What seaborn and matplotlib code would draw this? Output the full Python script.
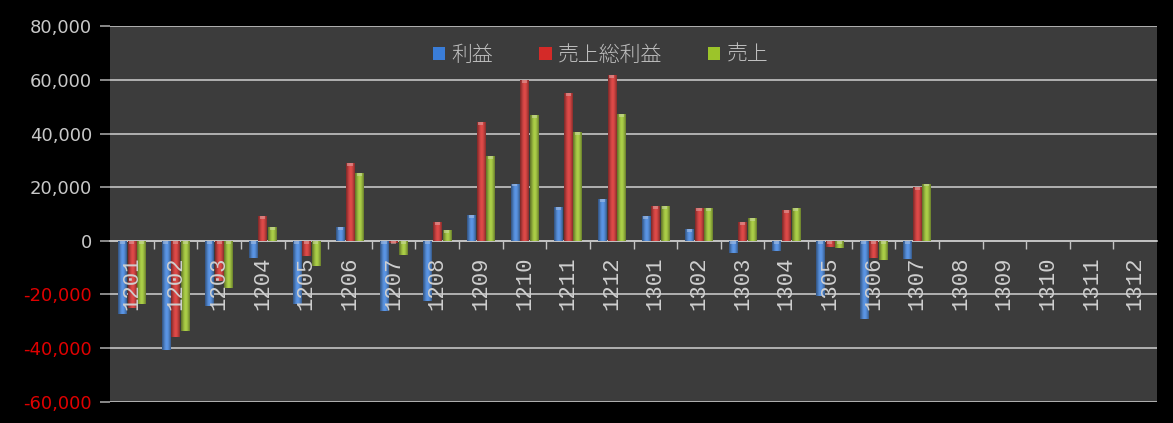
import numpy as np
import pandas as pd
import matplotlib
matplotlib.use("Agg")
import matplotlib.pyplot as plt
import matplotlib.transforms as mtransforms
from matplotlib.ticker import MultipleLocator, FuncFormatter, FixedLocator
from matplotlib.patches import Patch
import seaborn as sns

# Monthly figures (yymm)
months = ["1201", "1202", "1203", "1204", "1205", "1206", "1207", "1208",
          "1209", "1210", "1211", "1212", "1301", "1302", "1303", "1304",
          "1305", "1306", "1307", "1308", "1309", "1310", "1311", "1312"]
nan = np.nan
profit = [-27300, -40900, -24200, -6400, -23400, 5100, -26100, -22400,
          9600, 21400, 12800, 15700, 9100, 4500, -4500, -3900,
          -20500, -29200, -6600, nan, nan, nan, nan, nan]
gross_profit = [-24900, -36000, -15000, 9300, -5700, 29000, -800, 7000,
                44300, 60100, 55000, 62000, 13100, 12300, 7000, 11500,
                -2400, -6400, 20100, nan, nan, nan, nan, nan]
sales = [-23400, -33500, -17500, 5100, -9400, 25200, -5400, 4000,
         31500, 46800, 40700, 47400, 13100, 12300, 8700, 12300,
         -2700, -7000, 21400, nan, nan, nan, nan, nan]
series_names = ["利益", "売上総利益", "売上"]
series_colors = ["#3a7dd8", "#d42a28", "#9cc42a"]

df = pd.DataFrame({
    "month": months * 3,
    "series": np.repeat(series_names, len(months)),
    "value": profit + gross_profit + sales,
})

sns.set_theme(style="dark")
plt.rcParams["font.family"] = ["DejaVu Sans"]

fig = plt.figure(figsize=(11.73, 4.23), dpi=100, facecolor="black")
ax = fig.add_axes([0.0938, 0.0504, 0.8926, 0.887])
ax.set_facecolor("#3c3c3c")

sns.barplot(data=df, x="month", y="value", hue="series", order=months,
            hue_order=series_names, palette=series_colors, width=0.66,
            gap=0.12, errorbar=None, legend=False, ax=ax, zorder=3,
            linewidth=0, edgecolor="none")

# cylinder-like shading on each bar
bars = [p for c in ax.containers for p in c]
t = np.linspace(0, 1, 48)
shade = 0.62 + 0.55 * np.sin(np.pi * (t * 0.85 + 0.05)) ** 1.5
for p in bars:
    h = p.get_height()
    if not np.isfinite(h) or h == 0:
        continue
    p.set_linewidth(0)
    x0, w = p.get_x(), p.get_width()
    base = np.array(p.get_facecolor()[:3])
    grad = np.clip(base[None, :] * shade[:, None], 0, 1)
    img = np.concatenate([grad, np.ones((len(t), 1))], axis=1)[None, :, :]
    y_lo, y_hi = min(0, h), max(0, h)
    im = ax.imshow(img, extent=[x0, x0 + w, y_lo, y_hi], aspect="auto",
                   zorder=3.5, interpolation="bilinear")
    im.set_clip_path(p)
    # lighter top face
    cap = 1100
    light = np.clip(base * 0.5 + 0.5, 0, 1)
    ax.add_patch(plt.Rectangle((x0 + w * 0.2, y_hi - cap), w * 0.6, cap,
                               facecolor=light, edgecolor="none",
                               alpha=0.6, zorder=3.6))

ax.set_ylim(-60000, 80000)
ax.set_xlim(-0.5, len(months) - 0.5)

# gridlines
ax.yaxis.set_major_locator(MultipleLocator(20000))
ax.grid(axis="y", color="#c4c4c4", linewidth=1.2, zorder=1)
ax.grid(axis="x", visible=False)

# y tick labels: red for negative values
ax.yaxis.set_major_formatter(FuncFormatter(lambda v, _: f"{v:,.0f}"))
ax.tick_params(axis="y", which="major", length=7, width=1.2,
               color="#a0a0a0", pad=6, labelsize=13, left=True)
for lbl, val in zip(ax.get_yticklabels(), ax.get_yticks()):
    lbl.set_color("#e00000" if val < 0 else "#c8c8c8")

# category axis crossing at zero, labels drawn over the bars
for s in ["top", "right", "left"]:
    ax.spines[s].set_visible(False)
ax.spines["bottom"].set_position(("data", 0))
ax.spines["bottom"].set_color("#c4c4c4")
ax.spines["bottom"].set_linewidth(1.2)
ax.spines["bottom"].set_zorder(2)
ax.set_xticks(range(len(months)))
ax.set_xticklabels([])
ax.xaxis.set_minor_locator(FixedLocator(np.arange(0.5, len(months) - 0.5, 1)))
ax.tick_params(axis="x", which="major", length=0, bottom=True)
ax.tick_params(axis="x", which="minor", length=6, width=1, color="#c4c4c4",
               direction="out", bottom=True)
label_tr = mtransforms.offset_copy(ax.transData, fig=fig, y=-11, units="points")
for i, m in enumerate(months):
    ax.text(i, 0, m, transform=label_tr, rotation=90, ha="center", va="top",
            fontsize=16, family="Liberation Mono", color="#cfcfcf", zorder=6)
ax.set_xlabel("")
ax.set_ylabel("")

handles = [Patch(facecolor=c, edgecolor="none") for c in series_colors]
leg = fig.legend(handles, series_names, loc="center",
                 bbox_to_anchor=(0.512, 0.87), ncol=3, frameon=False,
                 handlelength=0.6, handleheight=0.6, handletextpad=0.3,
                 columnspacing=2.2,
                 prop={"family": ["Noto Sans CJK JP", "DejaVu Sans"],
                       "size": 15, "weight": "light"})
for txt in leg.get_texts():
    txt.set_color("#c0c0c0")

fig.savefig("out.png", dpi=100, facecolor="black")
